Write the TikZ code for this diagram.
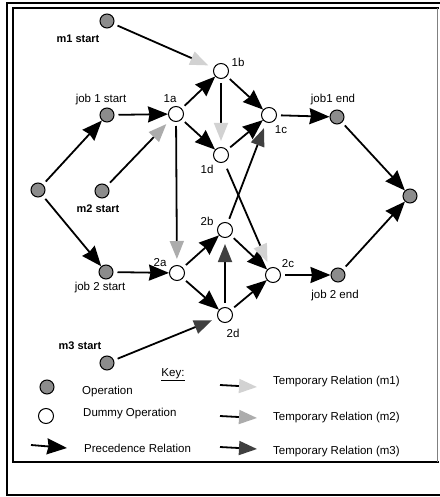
\documentclass[tikz,border=0pt]{standalone}
\usepackage{fontspec}
\setmainfont{Liberation Sans}
\usetikzlibrary{arrows.meta}
\begin{document}
\begin{tikzpicture}[x=1pt,y=-1pt,
 op/.style={circle,draw,line width=1pt,fill=black!45,minimum size=14pt,inner sep=0pt},
 dum/.style={circle,draw,line width=1pt,fill=white,minimum size=15pt,inner sep=0pt},
 lbl/.style={font=\fontsize{11.5}{13}\selectfont,inner sep=0pt},
 blbl/.style={font=\fontsize{11}{13}\selectfont\bfseries,inner sep=0pt},
 prec/.style={line width=1.8pt,-{Stealth[length=20pt,width=16pt,inset=1.5pt]},shorten <=4pt},
 tmpone/.style={line width=1.8pt,-{Triangle[length=18pt,width=14pt,color=gray!35]},shorten <=4pt,shorten >=6pt},
 tmptwo/.style={line width=1.8pt,-{Triangle[length=18pt,width=14pt,color=gray!65]},shorten <=4pt,shorten >=6pt},
 tmpthree/.style={line width=1.8pt,-{Triangle[length=18pt,width=14pt,color=black!75]},shorten <=4pt,shorten >=6pt},
]
\useasboundingbox (0,0) rectangle (439,497);
% frames
\draw[line width=2pt] (446,3) -- (7,3) -- (7,495) -- (446,495);
\draw[line width=2pt] (439,8) -- (13,8) -- (13,462) -- (439,462);
\draw[gray,line width=0.8pt] (437,8) -- (437,462);

% nodes
\node[op] (m1s) at (107,21) {};
\node[op] (j1s) at (107,115) {};
\node[dum] (n1a) at (176,114) {};
\node[dum] (n1b) at (221,71) {};
\node[dum] (n1c) at (269,115) {};
\node[dum] (n1d) at (221,155) {};
\node[op] (j1e) at (337,117) {};
\node[op] (L) at (38,190) {};
\node[op] (m2s) at (102,191) {};
\node[op] (R) at (410,196) {};
\node[dum] (n2a) at (177,273) {};
\node[dum] (n2b) at (225,230) {};
\node[dum] (n2c) at (273,275) {};
\node[dum] (n2d) at (225,315) {};
\node[op] (j2s) at (106,272) {};
\node[op] (j2e) at (338,275) {};
\node[op] (m3s) at (107,363) {};

% labels
\node[blbl] (tm1) at (78,39) {m1 start};
\node[lbl] (tj1s) at (101,100) {job 1 start};
\node[lbl] (t1a) at (170,99) {1a};
\node[lbl] (t1b) at (238,62) {1b};
\node[lbl] (t1c) at (281,130) {1c};
\node[lbl] (t1d) at (207,169) {1d};
\node[lbl] (tj1e) at (333,100) {job1 end};
\node[blbl] (tm2) at (98,209) {m2 start};
\node[lbl] (tj2s) at (100,288) {job 2 start};
\node[lbl] (t2a) at (160,263) {2a};
\node[lbl] (t2b) at (207,221) {2b};
\node[lbl] (t2c) at (288,264) {2c};
\node[lbl] (t2d) at (233,333) {2d};
\node[lbl] (tj2e) at (335,296) {job 2 end};
\node[blbl] (tm3) at (80,346) {m3 start};

% precedence
\draw[prec] (L) -- (j1s);
\draw[prec] (L) -- (j2s);
\draw[prec] (j1s) -- (n1a);
\draw[prec] (n1a) -- (n1b);
\draw[prec] (n1a) -- (n1d);
\draw[prec] (n1b) -- (n1c);
\draw[prec] (n1d) -- (n1c);
\draw[prec] (n1c) -- (j1e);
\draw[prec] (j1e) -- (R);
\draw[prec] (j2s) -- (n2a);
\draw[prec] (n2a) -- (n2b);
\draw[prec] (n2a) -- (n2d);
\draw[prec] (n2b) -- (n2c);
\draw[prec] (n2d) -- (n2c);
\draw[prec] (n2c) -- (j2e);
\draw[prec] (j2e) -- (R);

% temporary relations
\draw[tmpone] (m1s) -- (n1b);
\draw[tmpone] (n1b) -- (n1d);
\draw[tmpone,shorten <=7pt] (n1d) -- (n2c);
\draw[tmptwo] (m2s) -- (n1a);
\draw[tmptwo] (n1a) -- (n2a);
\draw[tmpthree] (m3s) -- (n2d);
\draw[tmpthree] (n2d) -- (n2b);
\draw[tmpthree] (n2b) -- (n1c);

% key
\node[lbl] (key) at (173,375) {\underline{Key:}};
\node[op] (kop) at (47,387) {};
\node[dum] (kdum) at (46,416) {};
\node[lbl,anchor=west] (tkop) at (82,392) {Operation};
\node[lbl,anchor=west] (tkdum) at (83,414) {Dummy Operation};
\node[lbl,anchor=west] (tkprec) at (84,448) {Precedence Relation};
\coordinate (pa) at (31,445);
\coordinate (pb) at (67,448);
\draw[prec,shorten <=0pt] (pa) -- (pb);
\coordinate (ta1) at (220,385);
\coordinate (tb1) at (257,387);
\coordinate (ta2) at (220,416);
\coordinate (tb2) at (257,418);
\coordinate (ta3) at (220,447);
\coordinate (tb3) at (257,449);
\draw[tmpone,shorten <=0pt,shorten >=0pt] (ta1) -- (tb1);
\draw[tmptwo,shorten <=0pt,shorten >=0pt] (ta2) -- (tb2);
\draw[tmpthree,shorten <=0pt,shorten >=0pt] (ta3) -- (tb3);
\node[lbl,anchor=west] (tt1) at (273,382) {Temporary Relation (m1)};
\node[lbl,anchor=west] (tt2) at (273,418) {Temporary Relation (m2)};
\node[lbl,anchor=west] (tt3) at (273,452) {Temporary Relation (m3)};
\end{tikzpicture}
\end{document}
